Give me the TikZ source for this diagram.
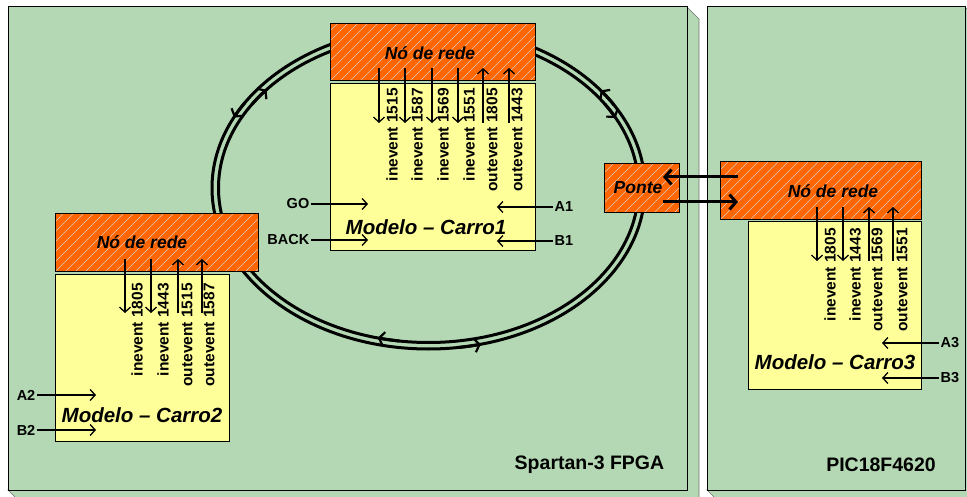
\documentclass[tikz,border=0pt]{standalone}
\usepackage{fontspec}
\setmainfont{Liberation Sans}
\usetikzlibrary{arrows.meta}

\definecolor{boardgreen}{RGB}{179,216,179}
\definecolor{modelyellow}{RGB}{255,255,153}
\definecolor{netorange}{RGB}{255,102,0}
\definecolor{hatchgrey}{RGB}{215,200,190}

\tikzset{
  panel/.style={rectangle, fill=boardgreen, draw=black, line width=1pt, inner sep=0pt},
  panelside/.style={fill=boardgreen, draw=black!55, line width=0.6pt},
  boardlabel/.style={font=\bfseries\fontsize{19.5}{20}\selectfont, inner sep=0pt},
  netbox/.style={rectangle, draw=black, line width=1pt, fill=netorange, inner sep=0pt,
    path picture={\foreach \k in {0,...,36}
      \draw[hatchgrey, line width=0.5pt]
        ([xshift=\k*10pt-90pt]path picture bounding box.south west) -- ++(110pt,110pt);}},
  modelbox/.style={rectangle, draw=black, line width=1pt, fill=modelyellow, inner sep=0pt},
  nettitle/.style={font=\bfseries\itshape\fontsize{17.5}{18}\selectfont, inner sep=0pt},
  modeltitle/.style={font=\bfseries\itshape\fontsize{20.5}{21}\selectfont, inner sep=0pt},
  evtext/.style={font=\bfseries\fontsize{15.5}{16}\selectfont, rotate=90, anchor=east, inner sep=0pt},
  siglabel/.style={font=\bfseries\fontsize{14.5}{15}\selectfont, inner sep=1.5pt},
  sig/.style={line width=1.3pt, -{Straight Barb[length=5pt,width=11pt,line width=1.3pt]}},
  bridge/.style={line width=3pt, -{Straight Barb[length=6.5pt,width=15pt,line width=3pt]}},
  ring/.style={line width=3pt},
  ringtip/.style={line width=3pt, -{Straight Barb[length=5pt,width=14pt,line width=2.2pt]}},
}

\begin{document}
\begin{tikzpicture}[x=1pt,y=-1pt]
\useasboundingbox (0,0) rectangle (967,497);
\fill[white] (0,0) rectangle (967,497);

% --- boards (bevelled plates) ---
\draw[panelside] (687,7) -- (699,19) -- (699,502) -- (20,502) -- (8,490) -- (687,490) -- cycle;
\node[panel, minimum width=679pt, minimum height=483pt] (fpga) at (347.5,248.5) {};
\draw[panelside] (965,7) -- (977,19) -- (977,502) -- (719,502) -- (707,490) -- (965,490) -- cycle;
\node[panel, minimum width=258pt, minimum height=483pt] (pic) at (836,248.5) {};
\node[boardlabel] (fpgalabel) at (589.5,465) {Spartan-3 FPGA};
\node[boardlabel] (piclabel) at (881,465) {PIC18F4620};

% --- ring bus: two counter-running lanes ---
\draw[ring] (428.5,188) ellipse [x radius=216.5, y radius=161];
\draw[ring] (428.5,188) ellipse [x radius=210, y radius=154.5];
% outer lane direction marks
\foreach \a/\b in {-31/-37.3, -148/-154, 82/76}
  \draw[ringtip] (428.5,188) ++(\a:216.5 and 161) arc[start angle=\a, end angle=\b, x radius=216.5, y radius=161];
% inner lane direction marks
\foreach \a/\b in {-147/-140.5, -33/-27, 98/104}
  \draw[ringtip] (428.5,188) ++(\a:210 and 154.5) arc[start angle=\a, end angle=\b, x radius=210, y radius=154.5];

% --- Carro1 ---
\node[netbox, minimum width=205pt, minimum height=57pt] (net1) at (432.5,52.5) {};
\node[modelbox, minimum width=205pt, minimum height=167pt] (car1) at (432.5,167.5) {};
\node[nettitle] (net1t) at (430,53) {Nó de rede};
\node[modeltitle] (car1t) at (426,227) {Modelo -- Carro1};

% --- Carro2 ---
\node[netbox, minimum width=203pt, minimum height=58pt] (net2) at (156.5,243) {};
\node[modelbox, minimum width=174pt, minimum height=166pt] (car2) at (142,358) {};
\node[nettitle] (net2t) at (142,242) {Nó de rede};
\node[modeltitle] (car2t) at (142,415) {Modelo -- Carro2};

% --- Carro3 ---
\node[netbox, minimum width=201pt, minimum height=58pt] (net3) at (820.5,191) {};
\node[modelbox, minimum width=173pt, minimum height=167pt] (car3) at (834.5,305.5) {};
\node[nettitle] (net3t) at (833,191) {Nó de rede};
\node[modeltitle] (car3t) at (835,362) {Modelo -- Carro3};

% --- bridge between the boards ---
\node[netbox, minimum width=75pt, minimum height=49pt] (ponte) at (641.5,188.5) {};
\node[nettitle] (pontet) at (638,188) {Ponte};
\coordinate (brA1) at (738,177); \coordinate (brA2) at (663,177);
\coordinate (brB1) at (663,202); \coordinate (brB2) at (738,202);
\draw[bridge] (brA1) -- (brA2);
\draw[bridge] (brB1) -- (brB2);

% --- event channels between network node and model ---
% Carro1
\foreach \i/\x/\tx/\dir/\txt in {1/379/392/d/inevent 1515, 2/405/417/d/inevent 1587,
    3/432/443/d/inevent 1569, 4/458/469/d/inevent 1551,
    5/483/492/u/outevent 1805, 6/509/517/u/outevent 1443}{
  \coordinate (c1top\i) at (\x,68);
  \coordinate (c1bot\i) at (\x,123);
  \if\dir d \draw[sig] (c1top\i) -- (c1bot\i); \else \draw[sig] (c1bot\i) -- (c1top\i); \fi
  \node[evtext] (c1ev\i) at (\tx,88) {\txt};
}
% Carro2
\foreach \i/\x/\tx/\dir/\txt in {1/125/137/d/inevent 1805, 2/151/163/d/inevent 1443,
    3/178/187/u/outevent 1515, 4/202/209/u/outevent 1587}{
  \coordinate (c2top\i) at (\x,259);
  \coordinate (c2bot\i) at (\x,313);
  \if\dir d \draw[sig] (c2top\i) -- (c2bot\i); \else \draw[sig] (c2bot\i) -- (c2top\i); \fi
  \node[evtext] (c2ev\i) at (\tx,283) {\txt};
}
% Carro3
\foreach \i/\x/\tx/\dir/\txt in {1/817/830/d/inevent 1805, 2/843/855/d/inevent 1443,
    3/869/877/u/outevent 1569, 4/893/902/u/outevent 1551}{
  \coordinate (c3top\i) at (\x,207);
  \coordinate (c3bot\i) at (\x,261);
  \if\dir d \draw[sig] (c3top\i) -- (c3bot\i); \else \draw[sig] (c3bot\i) -- (c3top\i); \fi
  \node[evtext] (c3ev\i) at (\tx,228) {\txt};
}

% --- sensor / command inputs ---
\node[siglabel, anchor=east] (go) at (311,204) {GO};
\node[siglabel, anchor=east] (back) at (311,240) {BACK};
\node[siglabel, anchor=west] (a1) at (553,207) {A1};
\node[siglabel, anchor=west] (b1) at (553,241) {B1};
\coordinate (goT) at (368,204); \coordinate (backT) at (368,240);
\coordinate (a1T) at (497,207); \coordinate (b1T) at (497,241);
\draw[sig] (go) -- (goT);
\draw[sig] (back) -- (backT);
\draw[sig] (a1) -- (a1T);
\draw[sig] (b1) -- (b1T);

\node[siglabel, anchor=east] (a2) at (37,395) {A2};
\node[siglabel, anchor=east] (b2) at (37,430) {B2};
\coordinate (a2T) at (96,395); \coordinate (b2T) at (96,430);
\draw[sig] (a2) -- (a2T);
\draw[sig] (b2) -- (b2T);

\node[siglabel, anchor=west] (a3) at (939,343) {A3};
\node[siglabel, anchor=west] (b3) at (939,378) {B3};
\coordinate (a3T) at (882,343); \coordinate (b3T) at (882,378);
\draw[sig] (a3) -- (a3T);
\draw[sig] (b3) -- (b3T);
\end{tikzpicture}
\end{document}
